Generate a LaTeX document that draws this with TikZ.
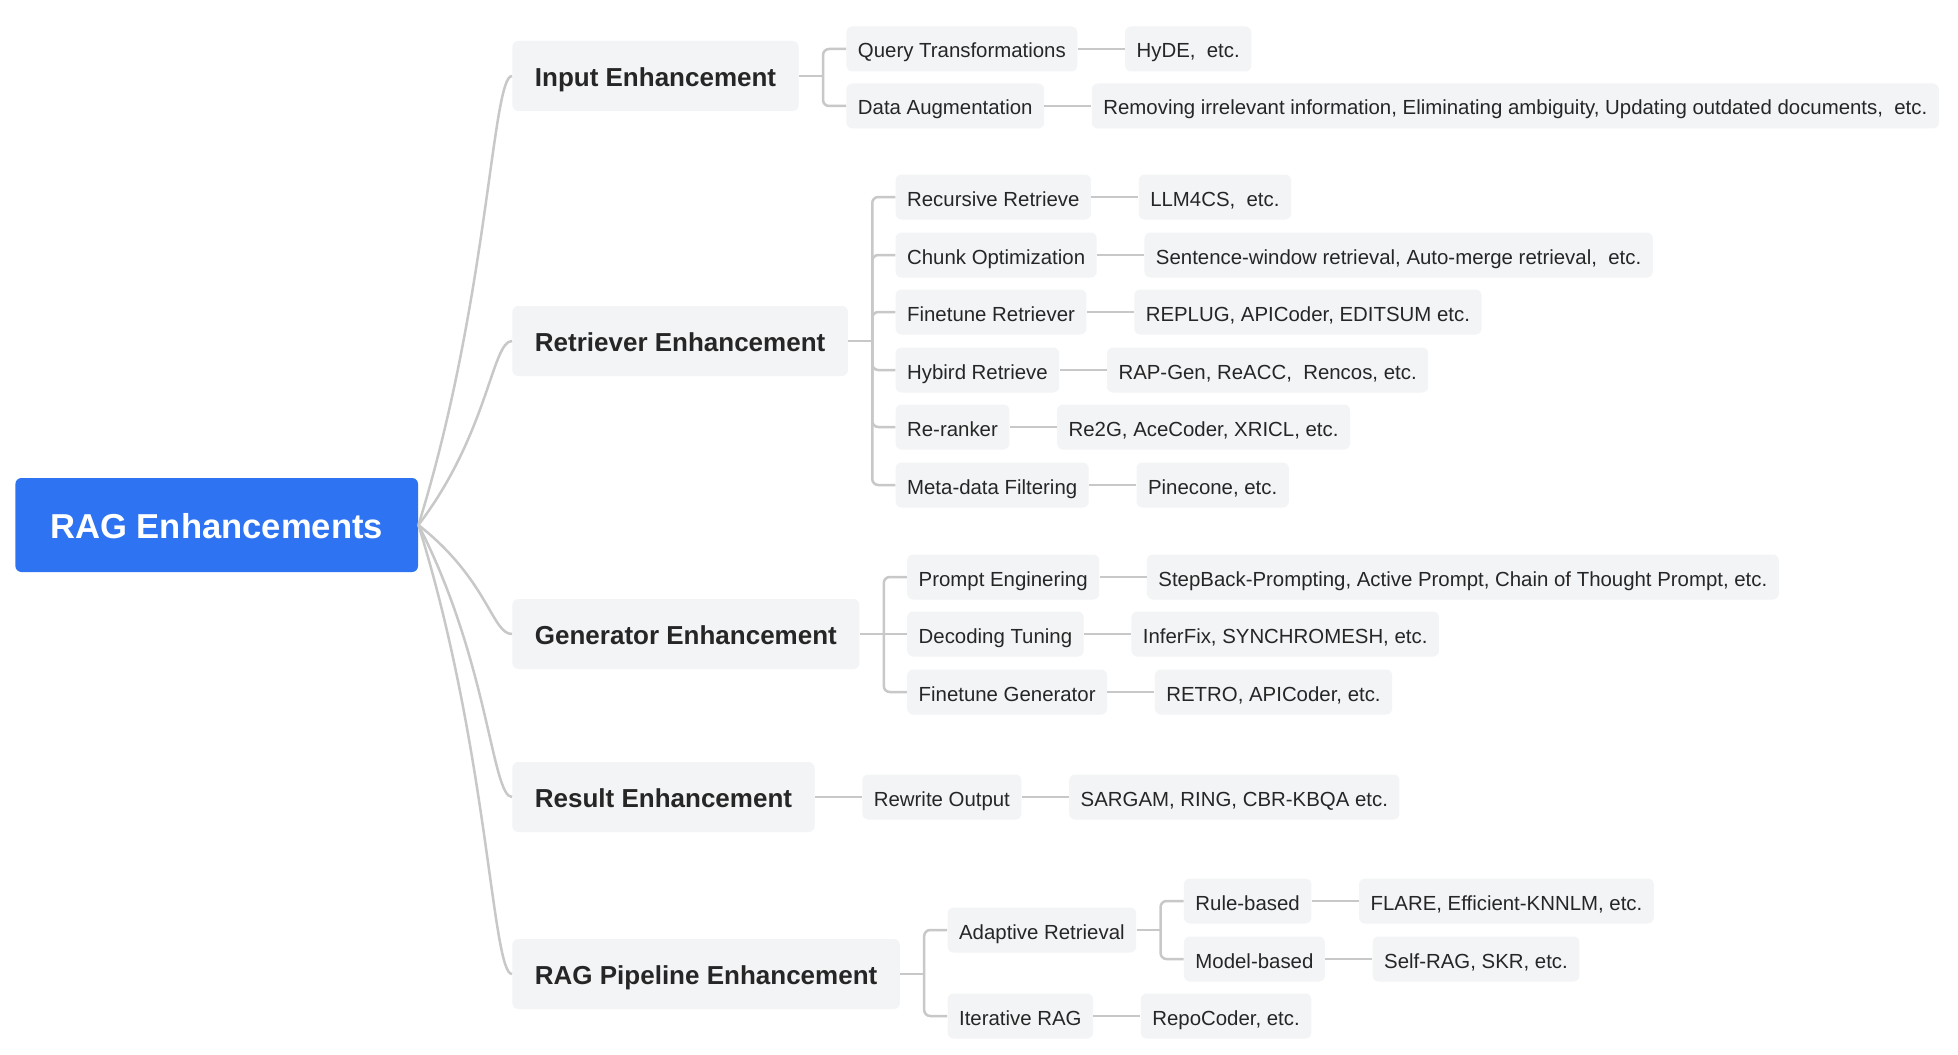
\documentclass[tikz,border=0pt]{standalone}
\usepackage{fontspec}
\setmainfont{Liberation Sans}
\usetikzlibrary{positioning}
\definecolor{rootblue}{HTML}{2E74F2}
\definecolor{boxgray}{HTML}{F3F4F6}
\definecolor{linegray}{HTML}{C8C8C8}
\definecolor{textdark}{HTML}{262626}

\begin{document}
\begin{tikzpicture}[x=0.5pt,y=-0.5pt]
\tikzstyle{box}=[
	rectangle,
	rounded corners=3pt,
	fill=boxgray,
	text=textdark,
	inner ysep=0pt,
	text depth=0pt ]
\tikzstyle{root}=[box, fill=rootblue, text=white, font=\fontsize{17.3}{20}\selectfont\bfseries, text height=13.8pt, minimum height=47pt, inner xsep=17.5pt, anchor=west]
\tikzstyle{main}=[box, font=\fontsize{13}{15}\selectfont\bfseries, text height=10.9pt, minimum height=35pt, inner xsep=11.25pt, anchor=west]
\tikzstyle{sub}=[box, font=\fontsize{10.2}{12}\selectfont, text height=9pt, minimum height=22.5pt, inner xsep=5.75pt]
\tikzstyle{child}=[sub, anchor=west, xshift=23.5pt]
\tikzstyle{leaf}=[sub, right=23.5pt of #1]
\tikzstyle{link}=[draw=linegray, line width=1.25pt]
\tikzstyle{fork}=[link, rounded corners=3pt]
\path[fill=white, use as bounding box] (0,0) rectangle (1958,1054);

\node[root] (rag) at (15,525) {RAG Enhancements};

\node[main] (inp) at (512,76) {Input Enhancement};
\node[main] (ret) at (512,341) {Retriever Enhancement};
\node[main] (gen) at (512,634) {Generator Enhancement};
\node[main] (res) at (512,797) {Result Enhancement};
\node[main] (pip) at (512,974) {RAG Pipeline Enhancement};

\draw[link] (rag.east) .. controls +(70,-225) and +(-20,0) .. (inp.west);
\draw[link] (rag.east) .. controls +(70,-92) and +(-20,0) .. (ret.west);
\draw[link] (rag.east) .. controls +(70,55) and +(-20,0) .. (gen.west);
\draw[link] (rag.east) .. controls +(70,136) and +(-20,0) .. (res.west);
\draw[link] (rag.east) .. controls +(70,225) and +(-20,0) .. (pip.west);

\node[child] (qt) at (inp.east |- 0,49) {Query Transformations};
\node[child] (aug) at (inp.east |- 0,106) {Data Augmentation};
\node[leaf=qt] (hyde) {HyDE,\ \ etc.};
\node[leaf=aug] (augex) {Removing irrelevant information, Eliminating ambiguity, Updating outdated documents,\ \ etc.};

\node[child] (rec) at (ret.east |- 0,197) {Recursive Retrieve};
\node[child] (chk) at (ret.east |- 0,255) {Chunk Optimization};
\node[child] (ftr) at (ret.east |- 0,312) {Finetune Retriever};
\node[child] (hyb) at (ret.east |- 0,370) {Hybird Retrieve};
\node[child] (rrk) at (ret.east |- 0,427) {Re-ranker};
\node[child] (meta) at (ret.east |- 0,485) {Meta-data Filtering};
\node[leaf=rec] (recex) {LLM4CS,\ \ etc.};
\node[leaf=chk] (chkex) {Sentence-window retrieval, Auto-merge retrieval,\ \ etc.};
\node[leaf=ftr] (ftrex) {REPLUG, APICoder, EDITSUM etc.};
\node[leaf=hyb] (hybex) {RAP-Gen, ReACC,\ \ Rencos, etc.};
\node[leaf=rrk] (rrkex) {Re2G, AceCoder, XRICL, etc.};
\node[leaf=meta] (metaex) {Pinecone, etc.};

\node[child] (prm) at (gen.east |- 0,577) {Prompt Enginering};
\node[child] (dec) at (gen.east |- 0,634) {Decoding Tuning};
\node[child] (ftg) at (gen.east |- 0,692) {Finetune Generator};
\node[leaf=prm] (prmex) {StepBack-Prompting, Active Prompt, Chain of Thought Prompt, etc.};
\node[leaf=dec] (decex) {InferFix, SYNCHROMESH, etc.};
\node[leaf=ftg] (ftgex) {RETRO, APICoder, etc.};

\node[child] (rew) at (res.east |- 0,797) {Rewrite Output};
\node[leaf=rew] (rewex) {SARGAM, RING, CBR-KBQA etc.};

\node[child] (ada) at (pip.east |- 0,930) {Adaptive Retrieval};
\node[child] (itr) at (pip.east |- 0,1016) {Iterative RAG};
\node[child] (rule) at (ada.east |- 0,901) {Rule-based};
\node[child] (model) at (ada.east |- 0,959) {Model-based};
\node[leaf=rule] (ruleex) {FLARE, Efficient-KNNLM, etc.};
\node[leaf=model] (modelex) {Self-RAG, SKR, etc.};
\node[leaf=itr] (itrex) {RepoCoder, etc.};

\coordinate (inpfork) at ([xshift=12pt]inp.east);
\coordinate (retfork) at ([xshift=12pt]ret.east);
\coordinate (genfork) at ([xshift=12pt]gen.east);
\coordinate (pipfork) at ([xshift=12pt]pip.east);
\coordinate (adafork) at ([xshift=12pt]ada.east);

\draw[link] (inp.east) -- (inpfork);
\draw[link] (ret.east) -- (retfork);
\draw[link] (gen.east) -- (genfork);
\draw[link] (pip.east) -- (pipfork);
\draw[link] (ada.east) -- (adafork);
\draw[link] (gen) -- (dec);
\draw[link] (res) -- (rew);

\foreach \a/\b in {inpfork/qt, inpfork/aug, retfork/rec, retfork/chk, retfork/ftr, retfork/hyb, retfork/rrk, retfork/meta, genfork/prm, genfork/ftg, pipfork/ada, pipfork/itr, adafork/rule, adafork/model}
	\draw[fork] (\a) |- (\b.west);

\foreach \a/\b in {qt/hyde, aug/augex, rec/recex, chk/chkex, ftr/ftrex, hyb/hybex, rrk/rrkex, meta/metaex, prm/prmex, dec/decex, ftg/ftgex, rew/rewex, rule/ruleex, model/modelex, itr/itrex}
	\draw[link] (\a) -- (\b);
\end{tikzpicture}
\end{document}
